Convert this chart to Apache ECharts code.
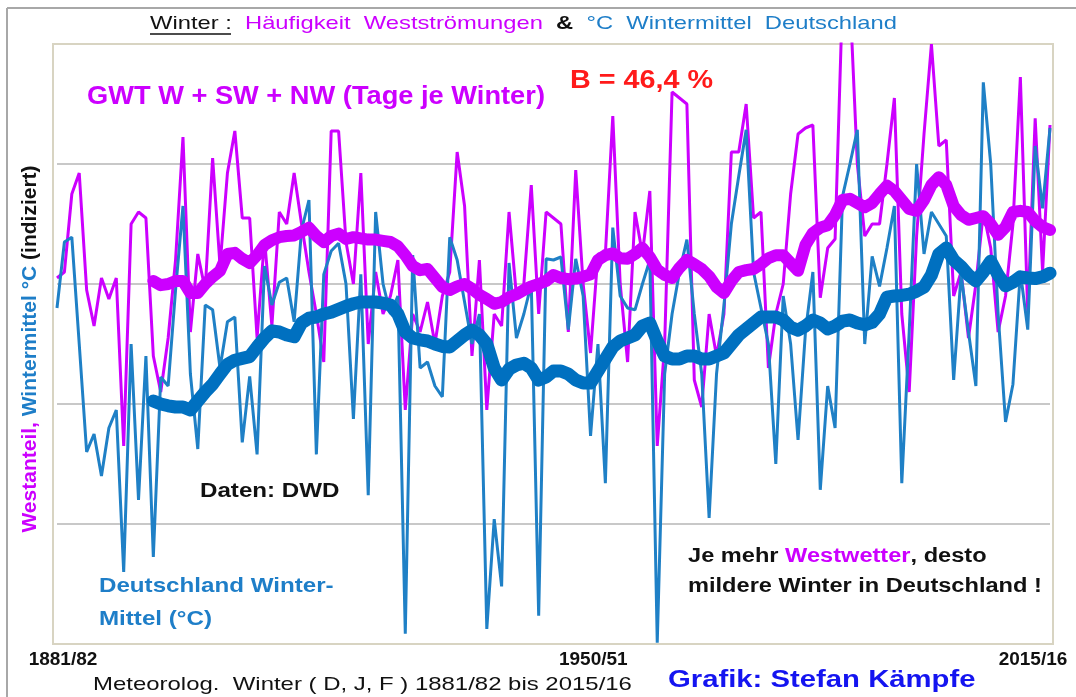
<!DOCTYPE html>
<html>
<head>
<meta charset="utf-8">
<script src="https://cdn.jsdelivr.net/npm/echarts@6/dist/echarts.min.js"></script>
<style>
html,body{margin:0;padding:0;background:#fff;}
#c{width:1076px;height:697px;}
</style>
</head>
<body>
<div id="c"></div>
<script>
// Winters 1881/82 .. 2015/16 (category labels)
const winters = [];
for (let y = 1881; y <= 2015; y++) winters.push(y + '/' + String((y + 1) % 100).padStart(2, '0'));

// Tick labels shown on the x axis
const tickWinters = ['1881/82', '1950/51', '2015/16'];

// Westerly weather frequency (indexed), thin magenta
const westDays = [
  61, 62, 75, 78.5, 59, 53, 61, 57.5, 61, 33,
  70, 72, 71, 48, 42, 51, 64, 84.5, 52, 65,
  59, 81, 63, 78.5, 85.5, 71, 71, 51, 67.5, 53,
  72, 70, 78.5, 70, 62, 55, 47, 85.5, 85.5, 67,
  60, 78.5, 50, 62, 55, 58, 64, 39, 55, 52,
  57, 50, 58, 62, 82, 73, 48, 64, 39, 55,
  53, 72, 58, 60, 76.5, 55, 72, 71, 70, 52,
  79, 60, 48.5, 65, 65, 88, 60, 47, 72, 65,
  75.5, 33, 50, 92, 91, 90, 44, 39.5, 55, 48,
  55, 82, 82, 90, 71, 72, 46, 55, 60, 75,
  85, 86, 86.5, 57.7, 66, 67.5, 108, 108, 80, 68,
  70, 70, 80, 91, 55, 42, 68, 85, 100, 83,
  84, 58, 62, 51, 60, 72, 66, 52, 58, 70,
  94.5, 55, 87.6, 62, 86.5
];

// Winter mean temperature Germany (indexed), thin blue
const winterTemp = [
  56, 67, 67.8, 50, 32, 35, 28, 36, 39, 12,
  50, 24, 48, 14.5, 44.5, 43, 59, 73, 45, 32.5,
  56.5, 55.7, 46, 53.7, 54.5, 33.6, 44.6, 31.6, 63, 56.5,
  60.3, 61, 53.7, 69, 74, 31.6, 61.6, 65.5, 66.8, 60,
  37.5, 61.6, 24.8, 72, 60, 55, 58, 1.7, 64.8, 46,
  47, 43, 41.2, 67.8, 64, 57, 50, 55, 2.5, 20.8,
  9.6, 63.5, 51, 55, 60, 4.7, 64.2, 64, 64.5, 52.4,
  64.2, 58, 34.7, 50, 26.8, 69.4, 58, 56, 55.7, 60,
  64, 0.2, 45, 55, 62, 67.4, 55, 45, 21, 45,
  56.4, 70, 78, 85.7, 62, 56, 50, 30, 58, 50,
  34, 52, 62, 25.7, 43, 36, 74.6, 80, 85.7, 50,
  64.6, 59.6, 66, 73, 26.8, 52, 80, 65, 72, 70,
  68, 44, 61.6, 52, 43, 93.6, 80, 55, 37, 43.3,
  62, 52.4, 83, 72.6, 86
];

// Smoothed westerly frequency (thick magenta)
const westSmooth = [
  null, null, null, null, null, null, null, null, null, null, null, null, null,
  60.5, 59.8, 60, 60.5, 60.5, 58.5, 58.5,
  60, 61.2, 62.2, 65, 65.2, 64.2, 63.5, 64.8, 66.5, 67.3,
  67.8, 68, 68.1, 68.7, 69.4, 68, 67, 68, 68.4, 67.5,
  67.8, 67.6, 67.4, 67.4, 67.2, 67, 66.3, 64.8, 63, 62.3,
  62.5, 61, 59.5, 59, 59.6, 60, 59.2, 58.2, 57.5, 56.7,
  57, 57.8, 58.3, 59, 59.6, 60, 60.5, 61.5, 61, 60.8,
  60.9, 61.2, 61.6, 64, 64.8, 65.1, 64.3, 64.2, 65, 66,
  64.5, 62.4, 61.5, 61, 62.7, 64, 63.3, 62.5, 61.3, 59.5,
  58.5, 60.5, 62, 62.3, 62.5, 63.3, 64.3, 64.8, 64.8, 63.5,
  62.2, 66.5, 68.5, 69.4, 69.8, 71.5, 74, 74.2, 73.5, 72.8,
  73.5, 75, 76.4, 75.5, 74, 72.5, 72.2, 74, 76.5, 77.8,
  76.5, 73, 71.5, 70.7, 71, 71.3, 70, 68.2, 69.5, 72,
  72.2, 72, 70.5, 69.5, 69
];

// Smoothed winter temperature (thick blue)
const tempSmooth = [
  null, null, null, null, null, null, null, null, null, null, null, null, null,
  40.5, 40, 39.7, 39.5, 39.5, 39, 40.5,
  42, 43.3, 45, 46.6, 47.3, 47.6, 47.9, 49.5, 51, 52.2,
  52, 51.5, 51.2, 53.5, 54.3, 54.5, 55, 55.3, 55.8, 56.3,
  56.7, 57, 57, 57, 56.8, 56.5, 55, 52, 51, 50.7,
  50.5, 50, 49.6, 49.5, 50.5, 51.5, 52.3, 51.5, 50, 46,
  44, 45.8, 46.5, 46.8, 46, 44, 44.5, 45.5, 45.5, 45,
  44, 43.5, 43.5, 45.5, 47.5, 49.5, 50.5, 51, 51.5, 53,
  53.5, 50.5, 48, 47.5, 47.5, 48, 48, 47.5, 47.5, 48,
  48.5, 50, 51.5, 52.5, 53.5, 54.5, 54.5, 54.5, 54, 52.8,
  52.3, 53, 54, 53.5, 52.5, 53, 53.8, 54, 53.5, 53.2,
  53.6, 55, 57.8, 58, 58.1, 58.3, 58.8, 59.5, 61.5, 65,
  66, 64, 62.9, 61.5, 60.5, 62, 63.8, 61.5, 59.7, 60.3,
  61.2, 61, 60.9, 61.2, 61.8
];

const FF = '"Liberation Sans", Arial, sans-serif';
const MAG = '#CC00FF';
const BLUE = '#1F80C6';
const BLUE_THICK = '#0070C0';
const TXT_BLUE = '#1E7EC8';

const chart = echarts.init(document.getElementById('c'), null, {renderer: 'canvas'});

const tickRich = {
  a: {fontFamily: FF, fontWeight: 'bold', fontSize: 19, color: '#111', padding: [0, 0, 0, 12]},
  b: {fontFamily: FF, fontWeight: 'bold', fontSize: 19, color: '#111', padding: [0, 0, 0, 50]},
  c: {fontFamily: FF, fontWeight: 'bold', fontSize: 19, color: '#111', padding: [0, 34, 0, 0]}
};
const tickKeys = ['a', 'b', 'c'];

function txt(x, y, text, opt) {
  return Object.assign({
    type: 'text', x: x, y: y, z: 100, silent: true,
    style: Object.assign({text: text, align: 'left', verticalAlign: 'middle', fontFamily: FF}, opt.style)
  }, opt.el || {});
}

const option = {
  backgroundColor: '#fff',
  animation: false,
  grid: {left: 57, right: 26, top: 44, bottom: 53, containLabel: false},
  xAxis: {
    type: 'category',
    data: winters,
    boundaryGap: false,
    axisLine: {show: false},
    axisTick: {show: false},
    splitLine: {show: false},
    axisLabel: {
      interval: 0,
      margin: 6,
      showMinLabel: true,
      showMaxLabel: true,
      formatter: function (val) {
        const k = tickWinters.indexOf(val);
        return k < 0 ? '' : '{' + tickKeys[k] + '|' + val + '}';
      },
      rich: tickRich
    }
  },
  yAxis: {
    type: 'value',
    min: 0, max: 100, interval: 20,
    axisLine: {show: false},
    axisTick: {show: false},
    axisLabel: {show: false},
    splitLine: {show: true, showMinLine: false, showMaxLine: false, lineStyle: {color: '#c8c8c8', width: 2}}
  },
  series: [
    {type: 'line', data: westDays, showSymbol: false, symbol: 'none', z: 2,
     lineStyle: {color: MAG, width: 3}},
    {type: 'line', data: winterTemp, showSymbol: false, symbol: 'none', z: 3,
     lineStyle: {color: BLUE, width: 3}},
    {type: 'line', data: westSmooth, showSymbol: false, symbol: 'none', z: 4,
     lineStyle: {color: MAG, width: 12, cap: 'round', join: 'round'}},
    {type: 'line', data: tempSmooth, showSymbol: false, symbol: 'none', z: 5,
     lineStyle: {color: BLUE_THICK, width: 13, cap: 'round', join: 'round'}}
  ],
  graphic: [
    // outer frame
    {type: 'line', z: 0, silent: true, shape: {x1: 7, y1: 8, x2: 1076, y2: 8}, style: {stroke: '#a8a8a8', lineWidth: 2}},
    {type: 'line', z: 0, silent: true, shape: {x1: 7, y1: 8, x2: 7, y2: 697}, style: {stroke: '#a8a8a8', lineWidth: 2}},
    // plot border
    {type: 'rect', z: 1, silent: true, shape: {x: 53, y: 44, width: 1000, height: 600},
     style: {fill: null, stroke: '#d8d4c2', lineWidth: 2}},
    // title
    txt(150, 24, '{k|Winter :}  {m|Häufigkeit  Westströmungen}  {kb|&}  {b|°C  Wintermittel  Deutschland}', {
      el: {scaleX: 1.25},
      style: {fontSize: 19, rich: {
        k: {fill: '#111', fontSize: 19, fontFamily: FF},
        m: {fill: MAG, fontSize: 19, fontFamily: FF},
        kb: {fill: '#111', fontSize: 19, fontFamily: FF, fontWeight: 'bold'},
        b: {fill: TXT_BLUE, fontSize: 19, fontFamily: FF}
      }}
    }),
    {type: 'line', z: 100, silent: true, shape: {x1: 150, y1: 34, x2: 231, y2: 34}, style: {stroke: '#111', lineWidth: 1.5}},
    txt(570, 81, 'B = 46,4 %', {el: {scaleX: 1.15}, style: {fontSize: 25, fontWeight: 'bold', fill: '#FF1A1A'}}),
    txt(87, 97, 'GWT W + SW + NW (Tage je Winter)', {el: {scaleX: 1.09}, style: {fontSize: 25, fontWeight: 'bold', fill: MAG}}),
    // vertical axis title
    {type: 'text', x: 30, y: 349, rotation: Math.PI / 2, z: 100, silent: true,
     style: {text: '{m|Westanteil,} {b|Wintermittel °C} {k|(indiziert)}', align: 'center', verticalAlign: 'middle',
       fontFamily: FF, fontSize: 21, fontWeight: 'bold',
       rich: {
         m: {fill: MAG, fontFamily: FF, fontSize: 21, fontWeight: 'bold'},
         b: {fill: TXT_BLUE, fontFamily: FF, fontSize: 21, fontWeight: 'bold'},
         k: {fill: '#111', fontFamily: FF, fontSize: 21, fontWeight: 'bold'}
       }}},
    txt(200, 491, 'Daten: DWD', {el: {scaleX: 1.15}, style: {fontSize: 21, fontWeight: 'bold', fill: '#111'}}),
    txt(99, 586, 'Deutschland Winter-', {el: {scaleX: 1.15}, style: {fontSize: 21, fontWeight: 'bold', fill: TXT_BLUE}}),
    txt(99, 619, 'Mittel (°C)', {el: {scaleX: 1.15}, style: {fontSize: 21, fontWeight: 'bold', fill: TXT_BLUE}}),
    txt(688, 556, '{k|Je mehr }{m|Westwetter}{k|, desto}', {el: {scaleX: 1.18}, style: {fontSize: 20, fontWeight: 'bold', rich: {
      k: {fill: '#111', fontFamily: FF, fontSize: 20, fontWeight: 'bold'},
      m: {fill: MAG, fontFamily: FF, fontSize: 20, fontWeight: 'bold'}
    }}}),
    txt(688, 586, 'mildere Winter in Deutschland !', {el: {scaleX: 1.18}, style: {fontSize: 20, fontWeight: 'bold', fill: '#111'}}),
    txt(93, 685, 'Meteorolog.  Winter ( D, J, F ) 1881/82 bis 2015/16', {el: {scaleX: 1.26}, style: {fontSize: 19, fill: '#111'}}),
    txt(668, 680, 'Grafik: Stefan Kämpfe', {el: {scaleX: 1.22}, style: {fontSize: 24, fontWeight: 'bold', fill: '#1414F0'}})
  ]
};

chart.setOption(option);
</script>
</body>
</html>
